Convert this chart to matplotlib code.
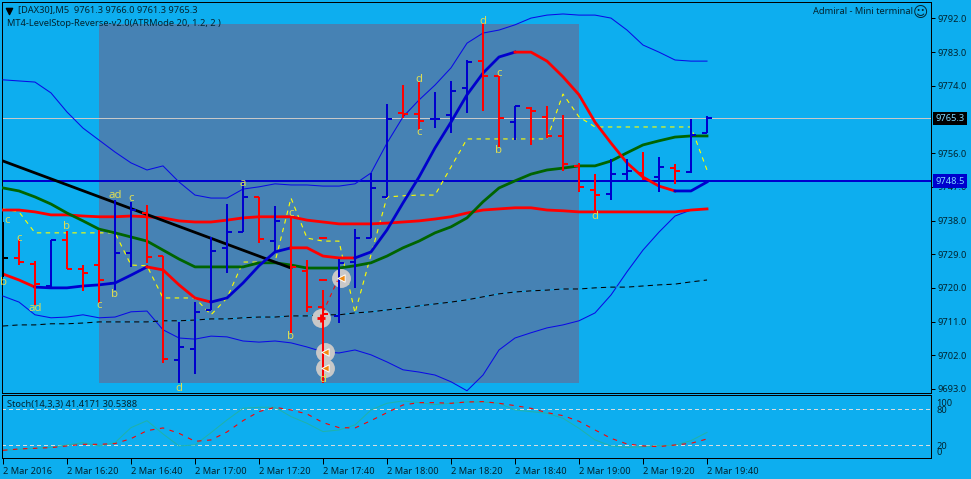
import numpy as np
import matplotlib
matplotlib.use('Agg')
import matplotlib.pyplot as plt

highs = [9737.6, 9733.1, 9727.2, 9732.8, 9735.2, 9726.1, 9735.5, 9743.5, 9743.0, 9742.2, 9728.5, 9710.9, 9716.2, 9733.6, 9742.4, 9748.0, 9744.3, 9741.9, 9739.0, 9727.5, 9719.4, 9727.7, 9735.7, 9750.7, 9769.1, 9774.2, 9775.0, 9772.4, 9775.3, 9780.9, 9790.8, 9776.6, 9768.6, 9768.3, 9768.6, 9766.2, 9753.4, 9750.4, 9754.4, 9754.4, 9756.3, 9755.0, 9753.1, 9765.1, 9766.0]
lows = [9722.9, 9726.1, 9715.4, 9720.0, 9725.1, 9719.2, 9716.0, 9719.4, 9725.6, 9726.7, 9699.9, 9694.6, 9697.0, 9714.1, 9724.0, 9734.9, 9732.0, 9729.3, 9708.0, 9713.6, 9694.6, 9710.6, 9720.0, 9733.3, 9744.3, 9765.4, 9762.2, 9762.7, 9761.4, 9766.7, 9767.3, 9757.7, 9759.5, 9758.2, 9760.1, 9751.2, 9745.6, 9740.0, 9743.5, 9748.6, 9748.8, 9745.6, 9747.8, 9750.7, 9761.3]
opens = [9728.0, 9728.0, 9726.4, 9720.5, 9732.8, 9725.1, 9726.1, 9721.3, 9729.3, 9740.0, 9728.5, 9700.7, 9703.7, 9714.1, 9730.7, 9734.9, 9744.3, 9732.5, 9739.0, 9724.5, 9714.9, 9712.5, 9726.9, 9733.3, 9744.3, 9766.7, 9766.5, 9765.1, 9766.2, 9773.4, 9780.6, 9776.6, 9764.3, 9768.1, 9765.7, 9760.6, 9752.6, 9746.2, 9745.1, 9750.4, 9750.7, 9749.6, 9752.0, 9751.0, 9761.3]
closes = [9728.0, 9726.9, 9721.0, 9732.8, 9725.1, 9724.0, 9722.1, 9729.3, 9740.8, 9728.3, 9701.0, 9704.2, 9713.6, 9729.9, 9734.9, 9744.3, 9733.1, 9737.9, 9725.6, 9714.9, 9713.0, 9726.7, 9733.3, 9746.7, 9765.1, 9766.6, 9764.6, 9765.2, 9772.6, 9780.4, 9776.6, 9765.4, 9768.6, 9767.3, 9760.6, 9753.1, 9747.0, 9744.8, 9750.4, 9751.2, 9749.1, 9752.3, 9751.2, 9760.9, 9765.3]

bb_upper = [9775.6, 9775.3, 9775.0, 9772.1, 9767.0, 9762.7, 9759.5, 9756.3, 9753.4, 9751.5, 9752.6, 9748.3, 9744.8, 9744.0, 9744.0, 9746.4, 9747.0, 9747.8, 9747.5, 9747.5, 9747.2, 9747.2, 9747.8, 9750.7, 9758.7, 9765.7, 9770.2, 9774.2, 9778.8, 9785.4, 9788.1, 9788.9, 9790.3, 9792.1, 9792.9, 9793.2, 9792.9, 9792.9, 9792.1, 9788.9, 9784.9, 9783.0, 9780.9, 9780.6, 9780.6]
bb_lower = [9717.8, 9716.2, 9712.8, 9712.0, 9712.2, 9712.8, 9712.0, 9712.2, 9713.6, 9713.8, 9708.8, 9706.6, 9706.3, 9707.1, 9706.9, 9705.8, 9705.5, 9705.8, 9705.3, 9704.2, 9702.9, 9702.6, 9703.4, 9702.1, 9700.2, 9698.1, 9697.5, 9696.7, 9694.9, 9692.5, 9696.7, 9703.4, 9706.6, 9708.0, 9709.3, 9710.1, 9711.2, 9713.3, 9718.1, 9724.3, 9730.1, 9734.9, 9739.2, 9740.8, 9741.1]
fast_ma = [9723.7, 9722.1, 9720.2, 9720.0, 9720.0, 9720.5, 9720.8, 9721.3, 9723.4, 9725.6, 9724.8, 9720.8, 9717.3, 9716.2, 9717.3, 9721.3, 9725.9, 9729.6, 9730.7, 9730.7, 9728.5, 9728.0, 9728.0, 9729.6, 9735.5, 9742.7, 9749.6, 9757.4, 9764.3, 9771.6, 9777.4, 9781.7, 9783.0, 9783.0, 9780.6, 9776.4, 9771.6, 9764.3, 9758.7, 9753.4, 9749.6, 9747.2, 9745.9, 9745.9, 9748.3]
fast_ma_switch = [0, 2, 9, 13, 18, 22, 32, 42, 44]  # colour flips red/blue here
green_ma = [9746.7, 9745.9, 9744.3, 9742.4, 9740.0, 9737.9, 9735.7, 9734.7, 9733.6, 9732.5, 9730.1, 9727.7, 9725.6, 9725.6, 9725.6, 9725.6, 9726.7, 9726.7, 9726.1, 9725.3, 9725.3, 9725.3, 9725.9, 9726.7, 9728.5, 9730.7, 9732.5, 9734.7, 9736.3, 9738.7, 9743.0, 9746.7, 9748.6, 9750.4, 9751.5, 9752.0, 9752.6, 9752.6, 9753.9, 9756.1, 9758.2, 9759.3, 9760.3, 9760.6, 9760.6]
red_ma = [9740.8, 9740.8, 9740.3, 9739.5, 9739.5, 9739.2, 9739.0, 9739.0, 9739.2, 9739.0, 9738.7, 9737.9, 9737.6, 9737.6, 9738.1, 9738.7, 9739.0, 9739.0, 9739.0, 9738.1, 9737.6, 9737.1, 9737.1, 9737.1, 9737.3, 9737.6, 9737.9, 9738.4, 9739.0, 9740.0, 9740.8, 9741.1, 9741.4, 9741.4, 9740.8, 9740.6, 9740.3, 9740.3, 9740.3, 9740.3, 9740.3, 9740.3, 9740.3, 9740.8, 9741.1]
slow_ma = [9709.8, 9710.1, 9710.1, 9710.4, 9710.4, 9710.6, 9710.9, 9710.9, 9710.9, 9710.9, 9711.2, 9711.2, 9711.4, 9711.7, 9711.7, 9712.0, 9712.2, 9712.2, 9712.5, 9712.5, 9712.8, 9712.8, 9713.3, 9713.6, 9714.1, 9714.6, 9715.2, 9715.7, 9716.2, 9716.8, 9717.6, 9718.4, 9718.9, 9719.2, 9719.4, 9719.7, 9719.7, 9720.0, 9720.2, 9720.2, 9720.5, 9720.8, 9721.0, 9721.6, 9722.1]
level_stop = [9741.1, 9740.3, 9734.7, 9734.7, 9734.7, 9734.7, 9734.7, 9734.7, 9726.1, 9725.9, 9717.3, 9717.3, 9717.3, 9712.8, 9717.3, 9726.9, 9726.9, 9726.9, 9744.0, 9733.3, 9732.5, 9732.5, 9713.3, 9728.8, 9744.3, 9744.6, 9744.8, 9744.8, 9752.3, 9759.8, 9759.8, 9759.8, 9759.8, 9759.8, 9759.8, 9771.8, 9765.7, 9763.0, 9763.0, 9763.0, 9763.0, 9763.0, 9763.0, 9763.0, 9751.5]

stoch_main = [11.6, 13.3, 15.0, 16.6, 20.5, 24.4, 18.9, 24.4, 49.4, 61.0, 38.9, 18.9, 20.5, 41.0, 62.2, 81.6, 83.3, 83.3, 67.8, 56.6, 42.8, 45.5, 53.9, 78.9, 90.0, 93.9, 91.1, 87.8, 90.0, 92.2, 92.2, 90.0, 78.9, 76.1, 73.3, 65.0, 48.3, 28.9, 18.9, 16.6, 17.8, 19.4, 20.0, 27.8, 41.4]
stoch_signal = [11.6, 13.9, 15.0, 16.1, 18.9, 21.6, 21.6, 22.8, 31.1, 44.4, 48.9, 40.0, 26.6, 28.9, 42.2, 61.0, 76.1, 83.3, 78.9, 72.2, 57.8, 49.4, 48.9, 61.1, 74.4, 87.2, 91.1, 91.1, 90.0, 92.2, 92.8, 90.0, 86.1, 81.6, 74.4, 69.4, 60.0, 45.5, 31.6, 22.2, 18.9, 17.8, 20.5, 23.3, 30.5]
stoch_levels = [80, 20]

price_ticks = [9792, 9783, 9774, 9756, 9747, 9738, 9729, 9720, 9711, 9702, 9693]
time_labels = ['2 Mar 2016', '2 Mar 16:20', '2 Mar 16:40', '2 Mar 17:00', '2 Mar 17:20', '2 Mar 17:40', '2 Mar 18:00', '2 Mar 18:20', '2 Mar 18:40', '2 Mar 19:00', '2 Mar 19:20', '2 Mar 19:40']
time_ticks = [0, 4, 8, 12, 16, 20, 24, 28, 32, 36, 40, 44]

last_price = 9765.3
stop_price = 9748.5
trend_bars = [0, 18]
trend_prices = [9753.9, 9725.3]
box_bars = [6, 36]
box_prices = [9694.6, 9790.5]

wave_text = ['c', 'c', 'b', 'ad', 'b', 'ad', 'c', 'b', 'c', 'a', 'c', 'b', 'd', 'd', 'd', 'd', 'c', 'c', 'b', 'd']
wave_bars = [0.25, 1, 4, 2, 0.05, 7, 8, 7, 6, 15, 18, 18, 11, 20, 30, 26, 26, 31, 31, 37]
wave_prices = [9738.1, 9733.3, 9736.5, 9714.4, 9721.3, 9744.6, 9743.8, 9718.1, 9715.2, 9748.0, 9740.0, 9707.1, 9693.2, 9695.4, 9791.1, 9775.6, 9761.4, 9777.4, 9756.6, 9739.2]

trade_bars = [19.85, 21.15, 20.15, 20.15]
trade_prices = [9712.0, 9722.6, 9702.9, 9698.6]

BG = '#0DAEEF'
BLUE = '#0000CD'
FONT = 'Noto Sans'
INK = '#022430'
FS = 6.7

plt.rcParams['font.family'] = FONT

fig = plt.figure(figsize=(9.71, 4.79), dpi=100, facecolor=BG)
W, H = 971.0, 479.0
ax = fig.add_axes([2 / W, 1 - 393 / H, 929 / W, 391 / H], facecolor=BG)
ax2 = fig.add_axes([2 / W, 1 - 458 / H, 929 / W, 63 / H], facecolor=BG)

bars = np.arange(len(closes))
xlim = (-1 / 16, 58)
ax.set_xlim(xlim)
ax.set_ylim(9691.9, 9796.4)
ax2.set_xlim(xlim)
ax2.set_ylim(-1.2, 103.8)

ax.fill_between(box_bars, box_prices[0], box_prices[1], color='#4682B4', lw=0, zorder=1)

ax.axhline(last_price, color='#C8C8C8', lw=0.72, antialiased=False, zorder=2)
ax.axhline(stop_price, color=BLUE, lw=1.44, antialiased=False, zorder=2)

ax.plot(bars, bb_upper, color='#0A0AE6', lw=0.75, zorder=3)
ax.plot(bars, bb_lower, color='#0A0AE6', lw=0.75, zorder=3)
ax.plot(bars, slow_ma, color='black', lw=0.75, ls=(0, (5, 4)), gapcolor='#12A4E4', zorder=3)
ax.plot(bars, level_stop, color='#FFFF00', lw=0.8, ls=(0, (4, 4)), zorder=3)
ax.plot(bars, red_ma, color='#FF0000', lw=2, zorder=4)
ax.plot(bars, green_ma, color='#006400', lw=2, zorder=4)
ax.plot(trend_bars, trend_prices, color='black', lw=2, zorder=4)

for i in range(len(fast_ma_switch) - 1):
    a, b = fast_ma_switch[i], fast_ma_switch[i + 1]
    ax.plot(bars[a:b + 1], fast_ma[a:b + 1], color='#FF0000' if i % 2 == 0 else BLUE, lw=2, zorder=4)

# trade arrows and their grey discs
ax.scatter(trade_bars, trade_prices, s=185, color='#C8C8C8', lw=0, zorder=4.5)
ax.plot([20.0, 20.9], [9713.5, 9721.9], color='#FF0000', lw=0.75, ls=(0, (4, 4)), zorder=5)
ax.hlines([9733.3, 9722.1], 19.75, 20.25, color='#FF0000', lw=1.44, antialiased=False, zorder=5)

colours = ['#0000CD' if c > o else '#FF0000' if c < o else 'black' for o, c in zip(opens, closes)]
ax.vlines(bars, lows, highs, colors=colours, lw=1.44, antialiased=False, zorder=6)
ax.hlines(opens, bars - 0.33, bars, colors=colours, lw=1.44, antialiased=False, zorder=6)
ax.hlines(closes, bars, bars + 0.33, colors=colours, lw=1.44, antialiased=False, zorder=6)

ax.scatter(trade_bars[1:], trade_prices[1:], s=28, marker='<', color='#F08A10', edgecolors='white', lw=0.7, zorder=7)
ax.scatter(trade_bars[:1], trade_prices[:1], s=40, marker='+', color='#FF0000', lw=2, zorder=7)

for t, b, p in zip(wave_text, wave_bars, wave_prices):
    ax.text(b, p, t, color='#DCDC55', fontsize=8.2, ha='center', va='center', zorder=8)

ax.set_xticks(time_ticks)
ax.tick_params(axis='x', length=0, labelbottom=False)
ax.yaxis.tick_right()
ax.set_yticks(price_ticks)
ax.set_yticklabels(['%.1f' % p for p in price_ticks])
ax.tick_params(axis='y', length=3, width=0.72, pad=2, labelsize=FS, labelcolor=INK)

for val, txt, box in [(last_price, '9765.3', 'black'), (stop_price, '9748.5', BLUE)]:
    ax.annotate(txt, xy=(1, val), xycoords=('axes fraction', 'data'), xytext=(3, 0), textcoords='offset points',
                fontsize=FS, color='#7FD8FF', va='center', ha='left', zorder=9, annotation_clip=False,
                bbox=dict(boxstyle='square,pad=0.25', fc=box, ec=box, lw=0))

# header texts
fig.text(18 / W, 1 - 10.5 / H, '[DAX30],M5  9761.3 9766.0 9761.3 9765.3', fontsize=FS, color=INK, va='center')
fig.text(7 / W, 1 - 23.5 / H, 'MT4-LevelStop-Reverse-v2.0(ATRMode 20, 1.2, 2 )', fontsize=FS, color=INK, va='center')
fig.text(913 / W, 1 - 11.5 / H, 'Admiral - Mini terminal', fontsize=FS, color=INK, va='center', ha='right')
fig.text(920.5 / W, 1 - 12 / H, '\u263A', fontsize=10.5, family='DejaVu Sans', color=INK, va='center', ha='center')
ax.scatter([9.3 / W], [1 - 10.5 / H], s=20, marker='v', color='black', transform=fig.transFigure, clip_on=False, zorder=9)

# stochastic window
for lvl in stoch_levels:
    ax2.axhline(lvl, color='#D5DDE0', lw=0.72, ls=(0, (4, 4)), antialiased=False, zorder=1)
ax2.plot(bars, stoch_main, color='#20B2AA', lw=0.75, zorder=2)
ax2.plot(bars, stoch_signal, color='#FF0000', lw=0.8, ls=(0, (4, 5)), zorder=3)
ax2.text(5 / 929, 0.845, 'Stoch(14,3,3) 41.4171 30.5388', transform=ax2.transAxes, fontsize=FS, color=INK, va='center')

ax2.set_xticks(time_ticks)
ax2.set_xticklabels(time_labels, ha='left')
ax2.tick_params(axis='x', length=4, width=0.72, pad=2.5, labelsize=FS, labelcolor=INK)
ax2.yaxis.tick_right()
ax2.set_yticks([92, 80, 20, 9])  # 100 and 0 sit shifted inwards on the terminal
ax2.set_yticklabels(['100', '80', '20', '0'])
ax2.tick_params(axis='y', length=0, pad=4, labelsize=FS, labelcolor=INK)

for a in (ax, ax2):
    for s in a.spines.values():
        s.set_linewidth(0.72)
        s.set_color('black')

fig.savefig('out.png', dpi=100, facecolor=BG)
